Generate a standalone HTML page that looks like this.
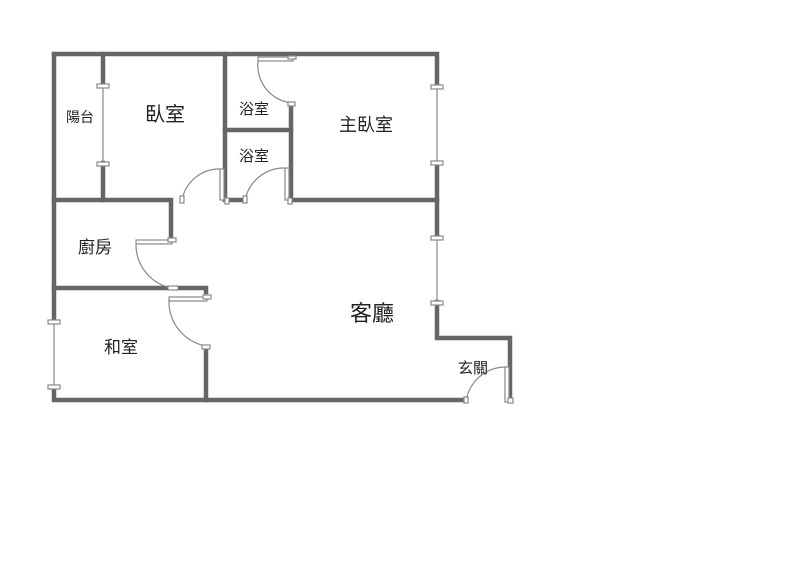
<!DOCTYPE html>
<html><head><meta charset="utf-8"><style>html,body{margin:0;padding:0;background:#fff}</style></head>
<body>
<svg width="800" height="576" viewBox="0 0 800 576" xmlns="http://www.w3.org/2000/svg">
<g stroke="#666" stroke-width="4.5" fill="none" stroke-linecap="square">
<path d="M54 54 H437 V85 M437 163 V238 M437 302 V338 H510 V400"/>
<path d="M54 54 V320 M54 388 V400 H466"/>
<path d="M103 54 V85 M103 163 V200"/>
<path d="M54 200 H171 V240"/>
<path d="M54 288 H168 M178 288 H206 V292"/>
<path d="M206 347 V400"/>
<path d="M225 54 V200 H242 M291 107 V200 H437"/>
<path d="M225 130 H291"/>
</g>
<g stroke="#888" stroke-width="1.2" fill="#fff">
<line x1="103" y1="85" x2="103" y2="163"/>
<line x1="437" y1="85" x2="437" y2="163"/>
<line x1="437" y1="238" x2="437" y2="302"/>
<line x1="54" y1="320" x2="54" y2="388"/>
<rect x="97" y="84" width="12" height="4"/><rect x="97" y="162" width="12" height="4"/>
<rect x="431" y="85" width="12" height="4"/><rect x="431" y="161" width="12" height="4"/>
<rect x="431" y="236" width="12" height="4"/><rect x="431" y="301" width="12" height="4"/>
<rect x="48" y="320" width="12" height="4"/><rect x="48" y="385" width="12" height="4"/>
<!-- doors -->
<rect x="136" y="240" width="36" height="4"/><rect x="168" y="238" width="8" height="4"/>
<path d="M136 244 A44 44 0 0 0 172 288" fill="none"/>
<rect x="168" y="286" width="10" height="4"/>
<rect x="169" y="297" width="38" height="4"/><rect x="203" y="295" width="8" height="4"/>
<path d="M169 301 A45 45 0 0 0 206 346" fill="none"/><rect x="202" y="345" width="8" height="4"/>
<rect x="258" y="57" width="35" height="4"/><rect x="288" y="56" width="8" height="3"/>
<path d="M258 61 A38 38 0 0 0 292 103" fill="none"/><rect x="288" y="102" width="7" height="4"/>
<rect x="220" y="169" width="4" height="31"/>
<path d="M220 169 A38 38 0 0 0 182 200" fill="none"/><rect x="180" y="196" width="4" height="7"/><rect x="225" y="198" width="4" height="6"/>
<rect x="285" y="168" width="4" height="32"/>
<path d="M285 168 A40 40 0 0 0 245 200" fill="none"/><rect x="243" y="196" width="4" height="7"/><rect x="288" y="198" width="4" height="6"/>
<rect x="505" y="367" width="4" height="35"/>
<path d="M505 367 A40 40 0 0 0 466 402" fill="none"/><rect x="464" y="397" width="4" height="6"/><rect x="508" y="398" width="5" height="5"/>
</g>
<g font-family="Liberation Sans, Noto Sans CJK TC, sans-serif" fill="#222" text-anchor="middle">
<text x="80" y="122" font-size="14">陽台</text>
<text x="165" y="121" font-size="20">臥室</text>
<text x="254" y="114" font-size="15">浴室</text>
<text x="254" y="161" font-size="15">浴室</text>
<text x="366" y="131" font-size="18">主臥室</text>
<text x="95" y="253" font-size="17">廚房</text>
<text x="121" y="353" font-size="17">和室</text>
<text x="372" y="321" font-size="22">客廳</text>
<text x="473" y="373" font-size="15">玄關</text>
</g>
</svg>
</body></html>
